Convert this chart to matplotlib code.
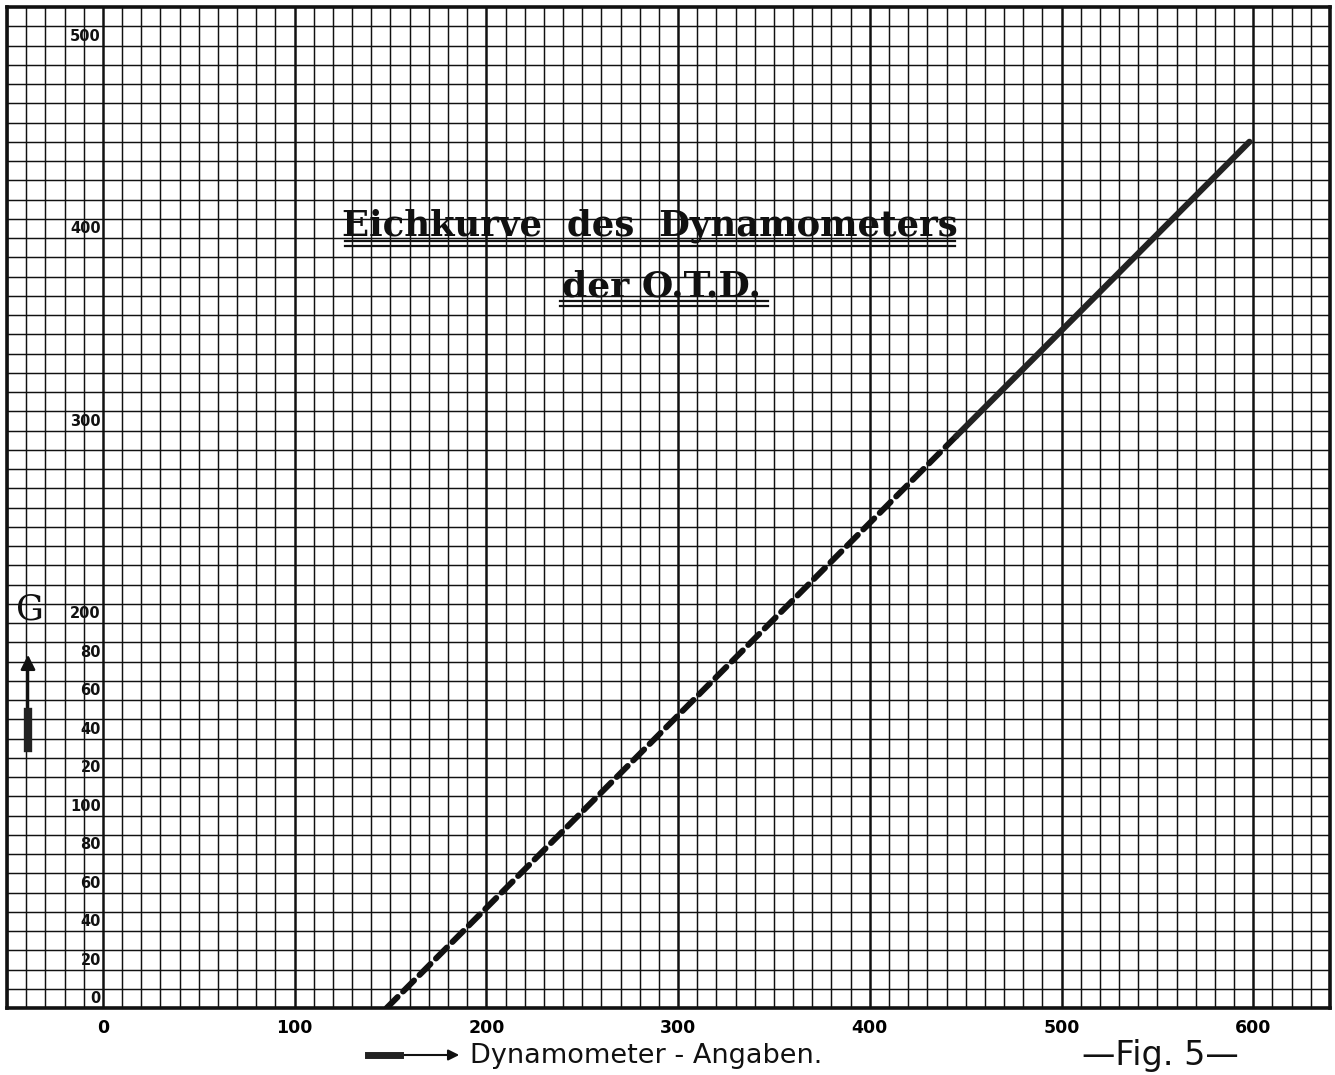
import numpy as np
import matplotlib
matplotlib.use("Agg")
import matplotlib.pyplot as plt
from matplotlib.lines import Line2D

# calibration line (Dynamometer reading -> G)
dash_x = [148, 445]
dash_y = [0, 297]
solid_x = [445, 598]
solid_y = [297, 450]

x_ticks = [0, 100, 200, 300, 400, 500, 600]
y_pos = [0, 20, 40, 60, 80, 100, 120, 140, 160, 180, 200, 300, 400, 500]
y_lab = ["0", "20", "40", "60", "80", "100", "20", "40", "60", "80", "200", "300", "400", "500"]

W, H = 1335, 1075
fig = plt.figure(figsize=(W / 100, H / 100), dpi=100)
fig.patch.set_facecolor("white")

def fx(px):
    return px / W

def fy(py):
    return 1 - py / H

ax = fig.add_axes([fx(7), fy(1008), fx(1330) - fx(7), fy(7) - fy(1008)])
ax.set_xlim(-50, 640)
ax.set_ylim(0, 520)

# squared paper
for xv in np.arange(-50, 640, 10):
    lw = 1.8 if xv % 100 == 0 else 1.05
    ax.axvline(xv, color="#111111", lw=lw, zorder=1)
for yv in np.arange(0, 520, 10):
    ax.axhline(yv, color="#111111", lw=1.05, zorder=1)

for s in ax.spines.values():
    s.set_linewidth(2.6)
    s.set_color("#111111")

ax.set_xticks(x_ticks)
ax.set_xticklabels([str(v) for v in x_ticks], fontsize=12.5, fontweight="bold")
ax.tick_params(axis="x", length=0, pad=8)
ax.set_yticks([])

for yv, lab in zip(y_pos, y_lab):
    ax.text(-1, yv + 0.8, lab, ha="right", va="bottom", fontsize=10.5,
            fontweight="bold", color="#111111", zorder=3)

# the curve
ax.plot(dash_x, dash_y, color="#111111", lw=4.3, ls=(0, (2.6, 1.3)),
        solid_capstyle="round", dash_capstyle="round", zorder=4)
ax.plot(solid_x, solid_y, color="#222222", lw=4.4, solid_capstyle="round", zorder=4)

# title
fig.text(fx(650), fy(226), "Eichkurve  des  Dynamometers", ha="center", va="center",
         fontsize=25.5, fontweight="bold", family="DejaVu Serif", color="#111111")
fig.text(fx(662), fy(287), "der O.T.D.", ha="center", va="center",
         fontsize=26, fontweight="bold", family="DejaVu Serif", color="#111111")
for (x0, x1, yy) in [(345, 955, 241), (345, 955, 246), (560, 768, 301), (560, 768, 306)]:
    fig.add_artist(Line2D([fx(x0), fx(x1)], [fy(yy), fy(yy)], color="#111111",
                          lw=1.6, transform=fig.transFigure))

# G label with upward arrow
fig.text(fx(30), fy(610), "G", ha="center", va="center", fontsize=25,
         family="DejaVu Serif", color="#111111")
fig.add_artist(Line2D([fx(28), fx(28)], [fy(748), fy(712)], color="#222222",
                      lw=6, transform=fig.transFigure))
ax.annotate("", xy=(fx(28), fy(652)), xytext=(fx(28), fy(730)),
            xycoords="figure fraction", textcoords="figure fraction",
            arrowprops=dict(arrowstyle="-|>", color="#111111", lw=1.8,
                            mutation_scale=22))

# x axis caption with arrow
fig.add_artist(Line2D([fx(368), fx(400)], [fy(1055), fy(1055)], color="#222222",
                      lw=5, transform=fig.transFigure))
ax.annotate("", xy=(fx(462), fy(1055)), xytext=(fx(395), fy(1055)),
            xycoords="figure fraction", textcoords="figure fraction",
            arrowprops=dict(arrowstyle="-|>", color="#111111", lw=1.5,
                            mutation_scale=16))
fig.text(fx(470), fy(1056), "Dynamometer - Angaben.", ha="left", va="center",
         fontsize=19.5, color="#111111")
fig.text(fx(1160), fy(1056), "\u2014Fig. 5\u2014", ha="center", va="center",
         fontsize=24, color="#111111")

fig.savefig("out.png", dpi=100, facecolor="white")
